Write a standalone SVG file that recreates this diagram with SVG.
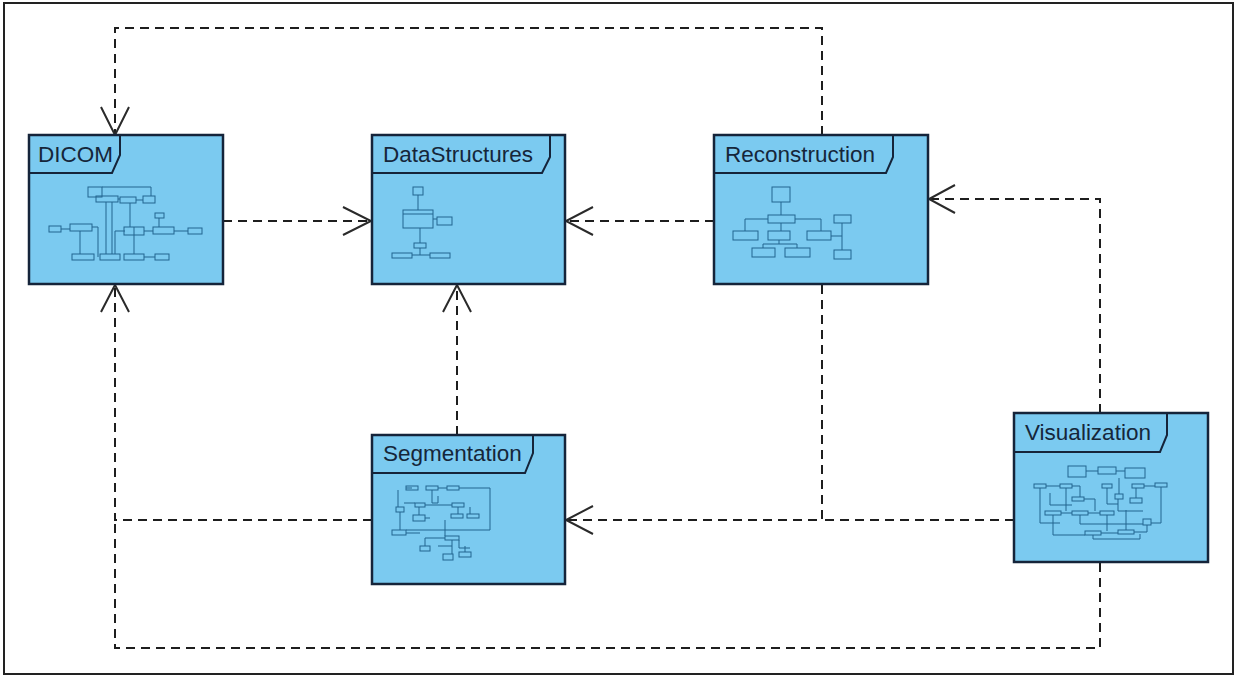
<svg xmlns="http://www.w3.org/2000/svg" width="1237" height="677" viewBox="0 0 1237 677">
  <style>
    .pkg { fill: #7bcaf0; stroke: #15243a; stroke-width: 2.5; }
    .tab { fill: none; stroke: #15243a; stroke-width: 2; }
    .name { font-family: "Liberation Sans", Arial, sans-serif; font-size: 22.5px; fill: #15263a; }
    .mini rect { fill: none; stroke: #22658f; stroke-width: 1; }
    .mini path { fill: none; stroke: #22658f; stroke-width: 1; }
    .dep { fill: none; stroke: #1e1e1e; stroke-width: 2; stroke-dasharray: 9 6; }
    .head { fill: none; stroke: #2a2a2a; stroke-width: 2; }
  </style>

  <rect x="0" y="0" width="1237" height="677" fill="#ffffff"/>
  <!-- diagram frame -->
  <rect x="4" y="3" width="1229" height="671" fill="none" stroke="#222" stroke-width="2"/>

  <!-- dependency connectors -->
  <g id="connectors">
    <!-- DICOM -> DataStructures -->
    <path class="dep" d="M223 221 H371"/>
    <path class="head" d="M343 207 L371 221 L343 235"/>
    <!-- Reconstruction -> DataStructures -->
    <path class="dep" d="M714 221 H566"/>
    <path class="head" d="M593 207 L566 221 L593 235"/>
    <!-- Reconstruction -> DICOM (over the top) -->
    <path class="dep" d="M822 135 V28 H115 V134"/>
    <path class="head" d="M101 107 L115 135 L129 107"/>
    <!-- Visualization -> Reconstruction -->
    <path class="dep" d="M1100 413 V199 H929"/>
    <path class="head" d="M955 185 L929 199 L955 213"/>
    <!-- Segmentation -> DataStructures -->
    <path class="dep" d="M457 435 V285"/>
    <path class="head" d="M443 312 L457 285 L471 312"/>
    <!-- Reconstruction -> Segmentation, Visualization -> Segmentation -->
    <path class="dep" d="M822 285 V520 H566"/>
    <path class="dep" d="M1014 520 H822"/>
    <path class="head" d="M593 506 L566 520 L593 534"/>
    <!-- Segmentation -> DICOM -->
    <path class="dep" d="M372 520 H115 V285"/>
    <path class="head" d="M101 312 L115 285 L129 312"/>
    <!-- Visualization -> DICOM (along the bottom) -->
    <path class="dep" d="M1100 563 V648 H115 V520"/>
  </g>

  <!-- DICOM package -->
  <g id="dicom">
    <rect class="pkg" x="29" y="135" width="194" height="149"/>
    <path class="tab" d="M29 173 H112 L120 155 V135"/>
    <text class="name" x="38" y="162">DICOM</text>
    <g class="mini">
      <rect x="49" y="226" width="12" height="6"/>
      <rect x="70" y="224" width="22" height="7"/>
      <rect x="88" y="187" width="14" height="10"/>
      <rect x="96" y="196" width="22" height="6"/>
      <rect x="120" y="197" width="16" height="6"/>
      <rect x="143" y="196" width="12" height="7"/>
      <rect x="155" y="213" width="9" height="5"/>
      <rect x="124" y="227" width="20" height="8"/>
      <rect x="153" y="227" width="21" height="7"/>
      <rect x="188" y="228" width="14" height="6"/>
      <rect x="72" y="254" width="22" height="6"/>
      <rect x="100" y="254" width="20" height="6"/>
      <rect x="124" y="254" width="20" height="6"/>
      <rect x="155" y="254" width="14" height="6"/>
      <path d="M61 229 H70 M92 227 H98 V257 M80 231 V254 M102 187 H151 V196 M106 202 V254 M118 199 H120 M136 200 H143 M112 202 V254 M130 203 V227 M134 227 V254 M125 231 H115 V254 M144 231 H153 M159 218 V227 M174 231 H188 M144 257 H155"/>
    </g>
  </g>

  <!-- DataStructures package -->
  <g id="datastructures">
    <rect class="pkg" x="372" y="135" width="193" height="149"/>
    <path class="tab" d="M372 173 H542 L550 157 V135"/>
    <text class="name" x="383" y="162">DataStructures</text>
    <g class="mini">
      <rect x="413" y="187" width="10" height="8"/>
      <rect x="403" y="210" width="30" height="18"/>
      <rect x="437" y="217" width="15" height="8"/>
      <rect x="414" y="243" width="12" height="5"/>
      <rect x="392" y="253" width="20" height="5"/>
      <rect x="430" y="253" width="20" height="5"/>
      <path d="M418 195 V210 M403 214 H433 M433 219 H437 M420 228 V243 M420 248 V255 M412 255 H430"/>
    </g>
  </g>

  <!-- Reconstruction package -->
  <g id="reconstruction">
    <rect class="pkg" x="714" y="135" width="214" height="149"/>
    <path class="tab" d="M714 173 H886 L893 157 V135"/>
    <text class="name" x="725" y="162">Reconstruction</text>
    <g class="mini">
      <rect x="772" y="187" width="18" height="15"/>
      <rect x="768" y="215" width="27" height="8"/>
      <rect x="733" y="231" width="25" height="9"/>
      <rect x="768" y="231" width="22" height="9"/>
      <rect x="807" y="231" width="24" height="9"/>
      <rect x="834" y="215" width="17" height="8"/>
      <rect x="834" y="250" width="17" height="9"/>
      <rect x="752" y="248" width="23" height="9"/>
      <rect x="785" y="248" width="25" height="9"/>
      <path d="M781 202 V215 M768 219 H745 V231 M795 219 H821 V231 M781 223 V231 M779 240 V244 M763 248 V244 H797 V248 M831 236 H842 M842 223 V250"/>
    </g>
  </g>

  <!-- Segmentation package -->
  <g id="segmentation">
    <rect class="pkg" x="372" y="435" width="193" height="149"/>
    <path class="tab" d="M372 473 H525 L533 453 V435"/>
    <text class="name" x="383" y="461">Segmentation</text>
    <g class="mini">
      <rect x="406" y="486" width="12" height="4"/>
      <rect x="426" y="486" width="12" height="4"/>
      <rect x="447" y="486" width="12" height="4"/>
      <rect x="396" y="507" width="8" height="5"/>
      <rect x="415" y="503" width="10" height="4"/>
      <rect x="452" y="503" width="12" height="4"/>
      <rect x="413" y="515" width="12" height="6"/>
      <rect x="451" y="514" width="12" height="4"/>
      <rect x="467" y="514" width="12" height="4"/>
      <rect x="392" y="530" width="14" height="5"/>
      <rect x="420" y="546" width="10" height="5"/>
      <rect x="445" y="536" width="14" height="4"/>
      <rect x="443" y="554" width="10" height="6"/>
      <rect x="459" y="552" width="12" height="5"/>
      <path d="M398 490 V507 M400 512 V530 M412 488 H406 M438 488 H447 M459 488 H490 V530 H406 M432 490 V503 H438 V496 M404 503 H415 M425 505 H452 M458 507 V514 M470 507 V514 M419 507 V515 M425 518 H430 M445 520 V536 M406 533 H420 M425 546 V538 H445 M452 540 V554 M438 546 H452 M459 540 V548 H470 M465 552 V546"/>
    </g>
  </g>

  <!-- Visualization package -->
  <g id="visualization">
    <rect class="pkg" x="1014" y="413" width="194" height="149"/>
    <path class="tab" d="M1014 452 H1160 L1167 435 V413"/>
    <text class="name" x="1025" y="440">Visualization</text>
    <g class="mini">
      <rect x="1068" y="466" width="18" height="11"/>
      <rect x="1098" y="467" width="18" height="7"/>
      <rect x="1125" y="468" width="20" height="10"/>
      <rect x="1034" y="484" width="12" height="4"/>
      <rect x="1060" y="484" width="12" height="4"/>
      <rect x="1102" y="484" width="10" height="4"/>
      <rect x="1132" y="484" width="12" height="4"/>
      <rect x="1155" y="483" width="12" height="4"/>
      <rect x="1072" y="497" width="12" height="4"/>
      <rect x="1115" y="494" width="8" height="5"/>
      <rect x="1130" y="498" width="12" height="5"/>
      <rect x="1045" y="511" width="16" height="4"/>
      <rect x="1072" y="511" width="16" height="4"/>
      <rect x="1100" y="511" width="14" height="4"/>
      <rect x="1143" y="519" width="8" height="6"/>
      <rect x="1085" y="531" width="16" height="4"/>
      <rect x="1118" y="530" width="16" height="4"/>
      <path d="M1086 471 H1098 M1116 471 H1125 M1040 488 V523 H1060 M1046 486 H1060 M1072 486 H1080 V497 M1050 493 V505 H1072 M1066 488 V511 M1084 499 H1095 V511 M1107 488 V504 H1118 M1119 478 V494 M1144 486 H1155 M1161 487 V523 H1151 M1136 488 V498 M1118 499 V511 H1143 M1061 513 H1072 M1088 513 H1100 M1053 515 V535 H1085 M1080 515 V524 H1143 M1101 533 H1118 M1107 515 V531 M1126 510 V530 M1134 532 H1147 V525 M1093 535 V539 H1140 V534"/>
    </g>
  </g>
</svg>
